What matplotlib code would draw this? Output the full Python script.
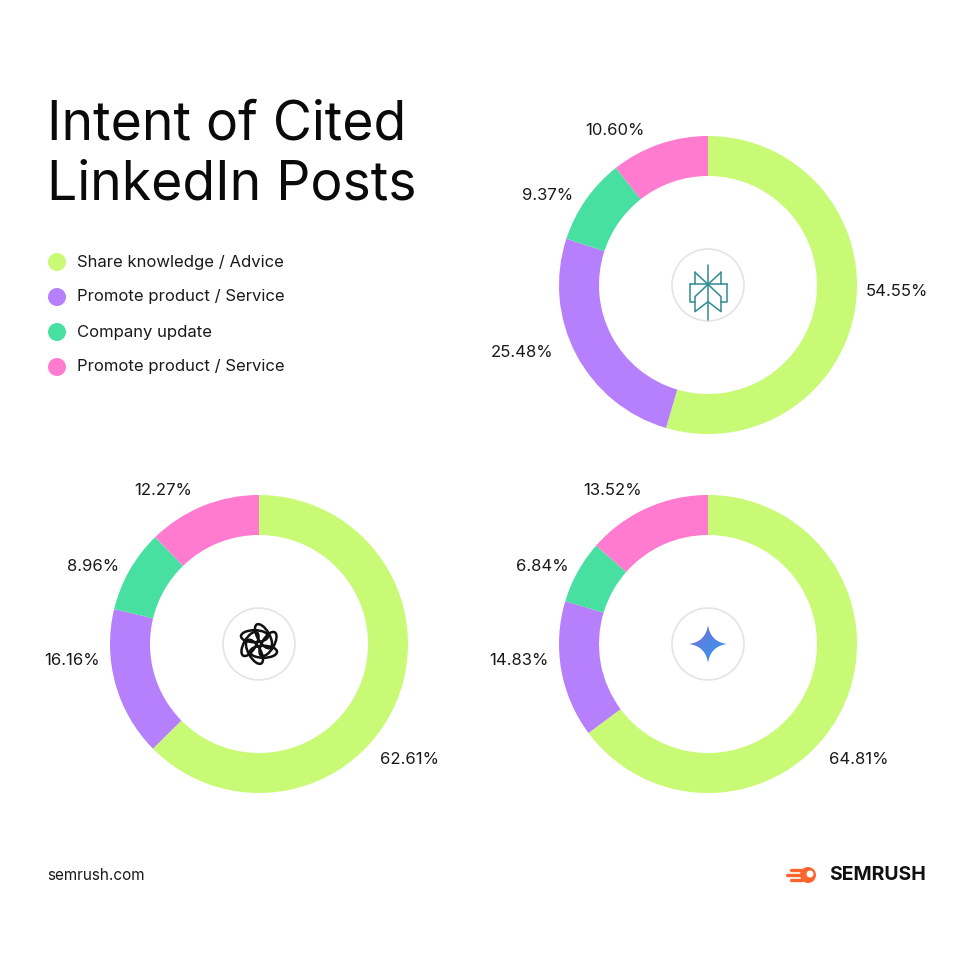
import numpy as np
import matplotlib.pyplot as plt
from matplotlib.patches import Circle, Ellipse, PathPatch
from matplotlib.path import Path
from matplotlib.colors import LinearSegmentedColormap

plt.rcParams['font.family'] = ['Inter', 'DejaVu Sans']

# data
categories = ["Share knowledge / Advice", "Promote product / Service",
              "Company update", "Promote product / Service"]
colors = ["#C9FA75", "#B67FFB", "#47E0A1", "#FF7BD0"]

perplexity = [54.55, 25.48, 9.37, 10.60]
chatgpt = [62.61, 16.16, 8.96, 12.27]
gemini = [64.81, 14.83, 6.84, 13.52]

# layout (image pixel coords, y measured from top)
W = H = 960
R = 149
RING = 40
donuts = [
    (perplexity, (708, 285), [-2, 200, 151, 121], [189, 198, 184, 180], "perplexity"),
    (chatgpt, (259, 644), [-37.5, 185, 155, 122], [190, 188, 183, 181], "chatgpt"),
    (gemini, (708, 644), [-37.5, 185, 155, 122], [190, 190, 183, 181], "gemini"),
]

fig = plt.figure(figsize=(9.6, 9.6), dpi=100)
ax = fig.add_axes([0, 0, 1, 1])


def Y(y):
    return H - y


def draw_perplexity(cx, cy):
    c = "#2E8C8F"
    s = 1 / 3.0
    ox, oy = 139, 110  # zoom-local centre
    segs = [
        [(139, 50), (139, 215)],
        [(100, 72), (139, 108), (178, 72)],
        [(100, 72), (100, 108)], [(178, 72), (178, 108)],
        [(85, 108), (195, 108)],
        [(85, 108), (85, 160), (100, 160)], [(195, 108), (195, 160), (178, 160)],
        [(139, 108), (100, 145), (100, 190), (139, 160)],
        [(139, 108), (178, 145), (178, 190), (139, 160)],
    ]
    for seg in segs:
        xs = [cx + (p[0] - ox) * s for p in seg]
        ys = [Y(cy + (p[1] - oy) * s) for p in seg]
        ax.plot(xs, ys, color=c, lw=1.1, solid_capstyle='round', zorder=5)


def draw_chatgpt(cx, cy):
    for k in range(6):
        a = np.deg2rad(k * 60)
        ex = cx + 9 * np.cos(a)
        ey = Y(cy) + 9 * np.sin(a)
        ax.add_patch(Ellipse((ex, ey), 27, 12, angle=k * 60 + 60,
                             fill=False, ec="#111111", lw=1.8, zorder=5))


def draw_gemini(cx, cy):
    r = 19
    k = 0.12 * r
    verts = [(0, r), (k, k), (r, 0), (k, -k), (0, -r), (-k, -k), (-r, 0), (-k, k), (0, r)]
    codes = [Path.MOVETO] + [Path.CURVE3] * 8
    verts = [(cx + vx, Y(cy) + vy) for vx, vy in verts]
    patch = PathPatch(Path(verts, codes), fc='none', ec='none', zorder=5)
    ax.add_patch(patch)
    g = np.linspace(0, 1, 64)
    grad = 0.5 * g[None, :] + 0.5 * g[::-1, None]
    im = ax.imshow(grad,
                   cmap=LinearSegmentedColormap.from_list(
                       "g", ["#8A63D2", "#4F86E6", "#3F9AEB"]),
                   extent=(cx - r, cx + r, Y(cy) - r, Y(cy) + r), zorder=5,
                   origin='lower', aspect='auto')
    im.set_clip_path(patch)


logo_funcs = {"perplexity": draw_perplexity, "chatgpt": draw_chatgpt, "gemini": draw_gemini}

for vals, (cx, cy), lab_ang, lab_r, logo in donuts:
    ax.pie(vals, colors=colors, startangle=90, counterclock=False,
           center=(cx, Y(cy)), radius=R, frame=True,
           wedgeprops=dict(width=RING, edgecolor='none'))
    for v, a, d in zip(vals, lab_ang, lab_r):
        t = np.deg2rad(a)
        ax.text(cx + d * np.cos(t), Y(cy) + d * np.sin(t), f"{v:.2f}%",
                ha='center', va='center', fontsize=12, color="#1a1a1a")
    ax.add_patch(Circle((cx, Y(cy)), 36, fc='white', ec='#e4e4e4', lw=1.2, zorder=4))
    logo_funcs[logo](cx, cy)

# title
ax.text(47, Y(100), "Intent of Cited\nLinkedIn Posts", ha='left', va='top',
        fontsize=38.5, color='#0a0a0a', linespacing=1.22)

# legend
for i, (cat, col) in enumerate(zip(categories, colors)):
    yy = Y(262 + 35 * i)
    ax.add_patch(Circle((57, yy), 9, fc=col, ec='none'))
    ax.text(77, yy, cat, ha='left', va='center', fontsize=12, color='#1a1a1a')

# footer
ax.text(47, Y(875), "semrush.com", ha='left', va='center', fontsize=11, color='#1a1a1a')
ax.text(926, Y(875), "SEMRUSH", ha='right', va='center', fontsize=14,
        fontweight='bold', color='#111111')
ax.add_patch(Circle((808, Y(875)), 8, fc='#FF642D', ec='none'))
ax.add_patch(Circle((810, Y(874)), 3.5, fc='white', ec='none'))
for dy, ln in [(-5, 9), (0, 13), (5, 9)]:
    ax.plot([800 - ln, 802], [Y(875 + dy)] * 2, color='#FF642D', lw=2.4,
            solid_capstyle='round')

ax.set_xlim(0, W)
ax.set_ylim(0, H)
ax.set_aspect('equal')
ax.axis('off')
fig.savefig("out.png", dpi=100, facecolor='white')
